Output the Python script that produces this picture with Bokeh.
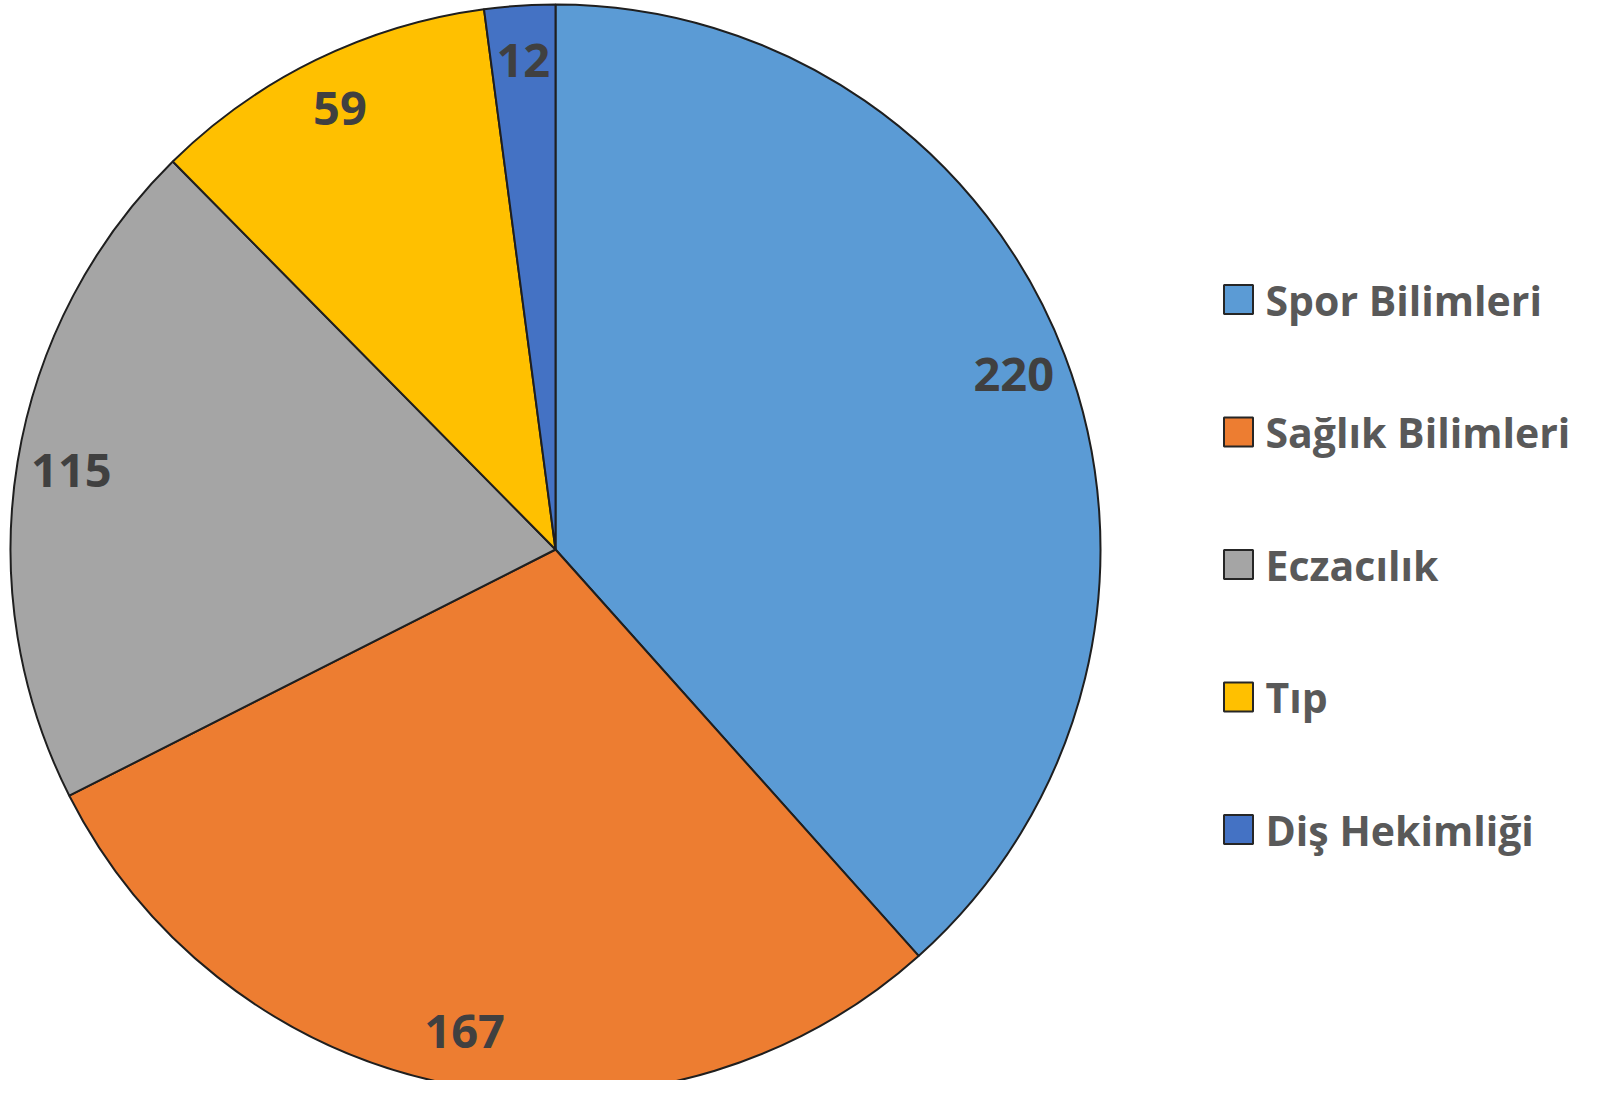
import numpy as np
from bokeh.plotting import figure
from bokeh.models import Range1d, ColumnDataSource
from bokeh.core.properties import value
from bokeh.embed import file_html
from bokeh.resources import INLINE

categories = ["Spor Bilimleri", "Sağlık Bilimleri", "Eczacılık", "Tıp", "Diş Hekimliği"]
counts = [220, 167, 115, 59, 12]
colors = ["#5B9BD5", "#ED7D31", "#A5A5A5", "#FFC000", "#4472C4"]

W, H = 1584, 1080
cx, cy, R = 555, 531, 545

p = figure(width=W, height=H, output_backend="svg", toolbar_location=None,
           x_range=Range1d(0, W), y_range=Range1d(0, H), min_border=0,
           background_fill_color="white", border_fill_color="white")
p.axis.visible = False
p.grid.visible = False
p.outline_line_color = None

vals = np.array(counts, dtype=float)
fr = vals / vals.sum()
ends_cum = np.cumsum(fr)
starts_cum = ends_cum - fr
start_angle = np.pi / 2 - 2 * np.pi * starts_cum
end_angle = np.pi / 2 - 2 * np.pi * ends_cum
mid = (start_angle + end_angle) / 2

src = ColumnDataSource(dict(start=start_angle, end=end_angle, color=colors,
                            lx=cx + 0.9 * R * np.cos(mid), ly=cy + 0.9 * R * np.sin(mid),
                            lab=[str(c) for c in counts]))
p.wedge(x=cx, y=cy, radius=R, start_angle="start", end_angle="end", direction="clock",
        fill_color="color", line_color="#1f1f1f", line_width=2, source=src)
p.text(x="lx", y="ly", text="lab", source=src, text_font=value("Open Sans"),
       text_font_style="bold", text_font_size="47px", text_color="#404040",
       text_align="center", text_baseline="middle")

# legend
idx = np.arange(len(categories))
leg = ColumnDataSource(dict(y=781 - 132.5 * idx, color=colors, name=categories))
p.rect(x=1238, y="y", width=29, height=29, fill_color="color", line_color="#262626",
       line_width=2, source=leg)
p.text(x=1265, y="y", text="name", source=leg, text_font=value("Open Sans"),
       text_font_style="bold", text_font_size="41px", text_color="#595959",
       text_align="left", text_baseline="middle")

open("out.html", "w").write(file_html(p, INLINE))
